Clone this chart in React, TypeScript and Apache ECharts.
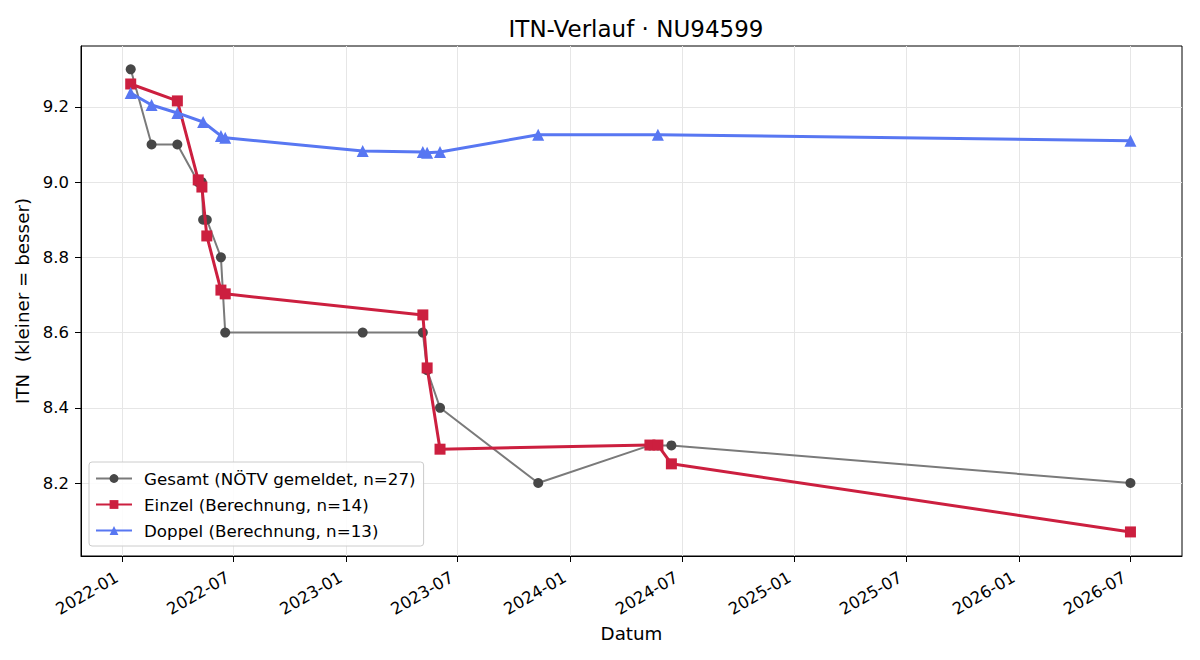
import React, { useEffect, useRef } from "react";
import * as echarts from "echarts";

const gesamtDates = [
  "2022-01-15", "2022-02-18", "2022-04-01", "2022-05-05", "2022-05-11", "2022-05-13",
  "2022-05-19", "2022-06-11", "2022-06-18", "2023-01-28", "2023-05-06", "2023-05-13",
  "2023-06-03", "2023-11-10", "2024-05-10", "2024-05-23", "2024-06-14", "2026-07-02",
];
const gesamtValues = [
  9.3, 9.1, 9.1, 9.0, 9.0, 8.9, 8.9, 8.8, 8.6, 8.6, 8.6, 8.5, 8.4, 8.2, 8.3, 8.3, 8.3, 8.2,
];

const einzelDates = [
  "2022-01-15", "2022-04-01", "2022-05-05", "2022-05-11", "2022-05-19", "2022-06-11",
  "2022-06-18", "2023-05-06", "2023-05-13", "2023-06-03", "2024-05-10", "2024-05-23",
  "2024-06-14", "2026-07-02",
];
const einzelValues = [
  9.261, 9.216, 9.006, 8.987, 8.857, 8.713, 8.703, 8.647, 8.506, 8.29, 8.301, 8.301, 8.251, 8.07,
];

const doppelDates = [
  "2022-01-15", "2022-02-18", "2022-04-01", "2022-05-13", "2022-06-11", "2022-06-18",
  "2023-01-28", "2023-05-06", "2023-05-13", "2023-06-03", "2023-11-10", "2024-05-23",
  "2026-07-02",
];
const doppelValues = [
  9.237, 9.205, 9.184, 9.16, 9.123, 9.118, 9.083, 9.08, 9.078, 9.08, 9.126, 9.126, 9.11,
];

const xTickLabels = [
  "2022-01", "2022-07", "2023-01", "2023-07", "2024-01", "2024-07", "2025-01", "2025-07",
  "2026-01", "2026-07",
];
const yTickValues = [8.2, 8.4, 8.6, 8.8, 9.0, 9.2];

const toTs = (s: string) => {
  const [y, m, d] = s.split("-").map(Number);
  return Date.UTC(y, m - 1, d || 1);
};

const pairs = (dates: string[], vals: number[]) => dates.map((d, i) => [toTs(d), vals[i]]);

const FONT = "DejaVu Sans";

export default function App() {
  const ref = useRef<HTMLDivElement>(null);
  useEffect(() => {
    if (!ref.current) return;
    const chart = echarts.init(ref.current, null, { renderer: "svg" });
    const xTicks = xTickLabels.map(toTs);
    const tickLabelOf: Record<number, string> = {};
    xTickLabels.forEach((l, i) => (tickLabelOf[xTicks[i]] = l));
    chart.setOption({
      animation: false,
      textStyle: { fontFamily: FONT },
      title: {
        text: "ITN-Verlauf · NU94599",
        left: 631,
        textAlign: "center",
        top: 12,
        textStyle: { fontFamily: FONT, fontSize: 23, fontWeight: "normal", color: "#000" },
      },
      grid: {
        left: 81,
        right: 18,
        top: 46,
        bottom: 104,
        show: true,
        borderColor: "#000",
        borderWidth: 1,
        containLabel: false,
      },
      legend: {
        orient: "vertical",
        left: 89,
        top: 462,
        itemWidth: 36,
        itemHeight: 11,
        itemGap: 9,
        padding: [8, 8, 7, 6],
        backgroundColor: "rgba(255,255,255,0.85)",
        borderColor: "#cccccc",
        borderWidth: 1,
        borderRadius: 3,
        textStyle: { fontFamily: FONT, fontSize: 16.7, color: "#000", padding: [0, 0, 0, 7] },
        data: [
          "Gesamt (NÖTV gemeldet, n=27)",
          "Einzel (Berechnung, n=14)",
          "Doppel (Berechnung, n=13)",
        ],
      },
      xAxis: {
        type: "value",
        min: toTs("2021-10-26"),
        max: toTs("2026-09-24"),
        name: "Datum",
        nameLocation: "middle",
        nameGap: 67,
        nameTextStyle: { fontFamily: FONT, fontSize: 18.3, color: "#000" },
        axisLine: { show: true, lineStyle: { color: "#000", width: 1 } },
        axisTick: { show: true, customValues: xTicks, length: 6, lineStyle: { color: "#000" } },
        axisLabel: {
          customValues: xTicks,
          rotate: 30,
          margin: 17,
          padding: [0, 6, 0, 0],
          fontFamily: FONT,
          fontSize: 16.5,
          color: "#000",
          formatter: (v: number) => tickLabelOf[v] ?? "",
        },
        splitLine: { show: true, lineStyle: { color: "#e6e6e6", width: 1 } },
      },
      yAxis: {
        type: "value",
        min: 8.006,
        max: 9.362,
        name: "ITN  (kleiner = besser)",
        nameLocation: "middle",
        nameGap: 46,
        nameTextStyle: { fontFamily: FONT, fontSize: 18.3, color: "#000" },
        axisLine: { show: true, lineStyle: { color: "#000", width: 1 } },
        axisTick: { show: true, customValues: yTickValues, length: 6, lineStyle: { color: "#000" } },
        axisLabel: {
          customValues: yTickValues,
          margin: 12,
          fontFamily: FONT,
          fontSize: 16.5,
          color: "#000",
          formatter: (v: number) => v.toFixed(1),
        },
        splitLine: { show: true, lineStyle: { color: "#e6e6e6", width: 1 } },
      },
      series: [
        {
          name: "Gesamt (NÖTV gemeldet, n=27)",
          type: "line",
          data: pairs(gesamtDates, gesamtValues),
          symbol: "circle",
          symbolSize: 10,
          showAllSymbol: true,
          lineStyle: { color: "#7a7a7a", width: 2 },
          itemStyle: { color: "#474747" },
          z: 2,
        },
        {
          name: "Einzel (Berechnung, n=14)",
          type: "line",
          data: pairs(einzelDates, einzelValues),
          symbol: "rect",
          symbolSize: 11,
          showAllSymbol: true,
          lineStyle: { color: "#cc1f3f", width: 3 },
          itemStyle: { color: "#cc1f3f" },
          z: 3,
        },
        {
          name: "Doppel (Berechnung, n=13)",
          type: "line",
          data: pairs(doppelDates, doppelValues),
          symbol: "triangle",
          symbolSize: 12,
          showAllSymbol: true,
          lineStyle: { color: "#5877f2", width: 3 },
          itemStyle: { color: "#5877f2" },
          z: 4,
        },
      ],
    });
    return () => chart.dispose();
  }, []);
  return <div ref={ref} style={{ width: 1200, height: 660, position: "absolute", left: 0, top: 0 }} />;
}
